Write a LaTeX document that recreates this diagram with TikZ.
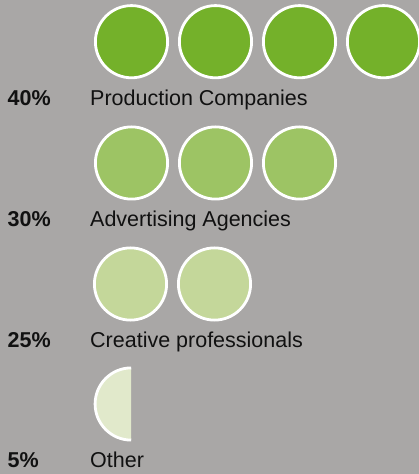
\documentclass[tikz,border=0pt]{standalone}
\usepackage{fontspec}
\setmainfont{Liberation Sans}
\definecolor{bg}{HTML}{A9A7A6}
\definecolor{gA}{HTML}{74B12A}
\definecolor{gB}{HTML}{9DC464}
\definecolor{gC}{HTML}{C4D79A}
\definecolor{gD}{HTML}{E1E9CB}
\definecolor{ink}{HTML}{111111}
\tikzset{
  dot/.style={draw=white, line width=2.8pt},
  pct/.style={anchor=base west, inner sep=0pt, font=\fontsize{21.5}{24}\selectfont\bfseries, text=ink},
  lbl/.style={anchor=base west, inner sep=0pt, font=\fontsize{21.5}{24}\selectfont, text=ink},
}
\begin{document}
\begin{tikzpicture}[x=1pt,y=1pt]
\fill[bg] (0,0) rectangle (419,474);
\useasboundingbox (0,0) rectangle (419,474);
% row 1
\foreach \i in {0,1,2,3} {
  \filldraw[dot, fill=gA] (131.5+84*\i, 432.3) circle (36.1);
}
\node[pct] (p1) at (7.5,368) {40\%};
\node[lbl] (l1) at (90,368) {Production Companies};
% row 2
\foreach \i in {0,1,2} {
  \filldraw[dot, fill=gB] (131.5+84*\i, 311) circle (36.1);
}
\node[pct] (p2) at (7.5,247) {30\%};
\node[lbl] (l2) at (90,247) {Advertising Agencies};
% row 3
\foreach \i in {0,1} {
  \filldraw[dot, fill=gC] (130.5+84*\i, 190) circle (36.1);
}
\node[pct] (p3) at (7.5,126) {25\%};
\node[lbl] (l3) at (90,126) {Creative professionals};
% row 4 half
\fill[gD] (131.2,106.1) arc (90:270:36.1) -- cycle;
\draw[dot] (131.2,106.1) arc (90:270:36.1);
\node[pct] (p4) at (7.5,6) {5\%};
\node[lbl] (l4) at (90,6) {Other};
\end{tikzpicture}
\end{document}
